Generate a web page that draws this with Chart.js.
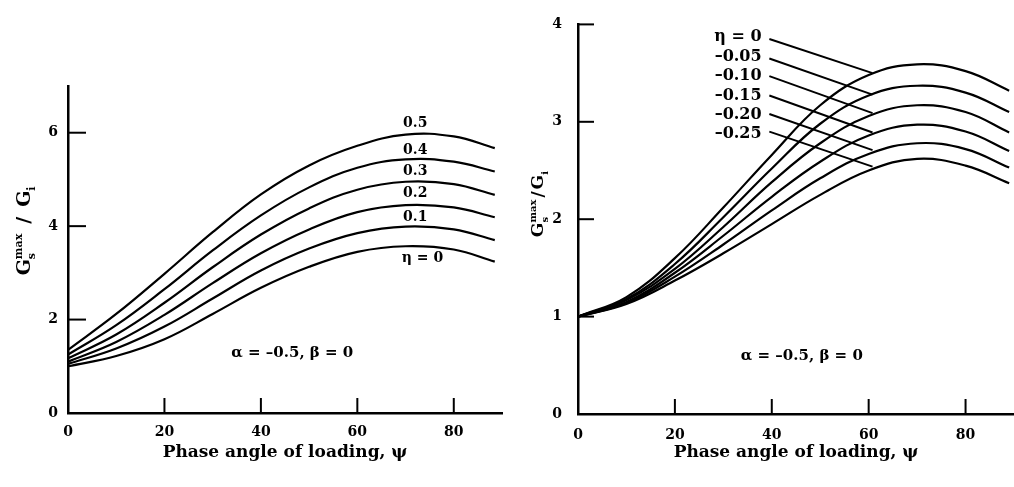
<!DOCTYPE html>
<html>
<head>
<meta charset="utf-8">
<script src="https://cdn.jsdelivr.net/npm/chart.js@4.4.1/dist/chart.umd.min.js"></script>
<style>
  html, body { margin: 0; padding: 0; background: #fff; }
  body { width: 1014px; height: 487px; position: relative; overflow: hidden; }
  .box { position: absolute; top: 0; height: 487px; width: 507px; }
  #boxL { left: 0; }
  #boxR { left: 507px; }
</style>
</head>
<body>
<div class="box" id="boxL"><canvas id="chartL"></canvas></div>
<div class="box" id="boxR"><canvas id="chartR"></canvas></div>
<script>
const psiLeft  = [0, 10, 20, 30, 40, 50, 60, 70, 80, 88.5];
const psiRight = [0, 10, 20, 30, 40, 50, 60, 70, 80, 89];

// left panel, eta = 0 .. 0.5
const gL_00 = [1.00, 1.22, 1.58, 2.12, 2.68, 3.13, 3.45, 3.57, 3.50, 3.24];
const gL_01 = [1.05, 1.38, 1.85, 2.45, 3.05, 3.52, 3.85, 3.99, 3.93, 3.70];
const gL_02 = [1.10, 1.52, 2.10, 2.78, 3.42, 3.93, 4.30, 4.45, 4.40, 4.19];
const gL_03 = [1.17, 1.68, 2.36, 3.12, 3.82, 4.38, 4.78, 4.95, 4.90, 4.67];
const gL_04 = [1.25, 1.88, 2.65, 3.48, 4.23, 4.83, 5.25, 5.43, 5.38, 5.17];
const gL_05 = [1.35, 2.12, 2.98, 3.87, 4.68, 5.30, 5.72, 5.96, 5.92, 5.67];

// right panel, eta = 0 .. -0.25
const gR_000 = [1.00, 1.20, 1.60, 2.12, 2.66, 3.17, 3.48, 3.59, 3.52, 3.32];
const gR_005 = [1.00, 1.18, 1.54, 2.02, 2.52, 2.98, 3.27, 3.37, 3.30, 3.10];
const gR_010 = [1.00, 1.17, 1.49, 1.92, 2.38, 2.78, 3.06, 3.17, 3.10, 2.89];
const gR_015 = [1.00, 1.15, 1.45, 1.83, 2.23, 2.59, 2.86, 2.97, 2.90, 2.70];
const gR_020 = [1.00, 1.14, 1.41, 1.74, 2.09, 2.42, 2.67, 2.78, 2.72, 2.53];
const gR_025 = [1.00, 1.13, 1.37, 1.65, 1.95, 2.25, 2.50, 2.62, 2.55, 2.37];

const xTicks = [0, 20, 40, 60, 80];
const yTicksLeft = [0, 2, 4, 6];
const yTicksRight = [0, 1, 2, 3, 4];

const etaLeft  = ['η = 0', '0.1', '0.2', '0.3', '0.4', '0.5'];
const etaRight = ['η = 0', '–0.05', '–0.10', '–0.15', '–0.20', '–0.25'];
const paramText = 'α = –0.5, β = 0';
const xTitle = 'Phase angle of loading, ψ';

// where the curve labels sit (data units)
const labelPosLeft = [[73.5, 3.32], [72, 4.19], [72, 4.70], [72, 5.17], [72, 5.63], [72, 6.19]];
const labelPosRight = [[37.9, 3.87], [37.9, 3.67], [37.9, 3.47], [37.9, 3.27], [37.9, 3.07], [37.9, 2.88]];
// leader lines from right-panel labels: [y at psi 39.5, y at psi 60.8]
const leaderY = [[3.85, 3.50], [3.65, 3.28], [3.47, 3.09], [3.27, 2.89], [3.08, 2.71], [2.90, 2.54]];

const FONT = '"DejaVu Serif", "Liberation Serif", serif';

function series(psi, arr) {
  return arr.map(function (vals) {
    return {
      data: psi.map(function (p, i) { return { x: p, y: vals[i] }; }),
      borderColor: '#000',
      borderWidth: 2.2,
      pointRadius: 0,
      tension: 0.4,
      fill: false
    };
  });
}

function drawYTitle(ctx, cx, cy, size, gap) {
  const big = 'bold ' + size + 'px ' + FONT;
  const small = 'bold ' + Math.round(size * 0.56) + 'px ' + FONT;
  ctx.save();
  ctx.translate(cx, cy);
  ctx.rotate(-Math.PI / 2);
  ctx.fillStyle = '#000';
  ctx.textBaseline = 'alphabetic';
  ctx.textAlign = 'left';
  ctx.font = big;
  const wG = ctx.measureText('G').width;
  const wSl = ctx.measureText('/').width;
  ctx.font = small;
  const wMax = ctx.measureText('max').width;
  const total = wG + wMax + gap + wSl + gap + wG + 6;
  let x = -total / 2;
  const base = size * 0.36;
  ctx.font = big; ctx.fillText('G', x, base); x += wG;
  ctx.font = small;
  ctx.fillText('max', x, base - size * 0.42);
  ctx.fillText('s', x, base + size * 0.28);
  x += wMax + gap;
  ctx.font = big; ctx.fillText('/', x, base); x += wSl + gap;
  ctx.fillText('G', x, base); x += wG;
  ctx.font = small; ctx.fillText('i', x, base + size * 0.28);
  ctx.restore();
}

const decorations = {
  id: 'decorations',
  afterDatasetsDraw(chart, args, o) {
    const ctx = chart.ctx;
    const a = chart.chartArea;
    const sx = chart.scales.x, sy = chart.scales.y;
    ctx.save();
    ctx.strokeStyle = '#000';
    ctx.fillStyle = '#000';
    // inward tick marks
    ctx.lineWidth = 2;
    xTicks.forEach(function (v) {
      if (v === 0) return;
      const px = sx.getPixelForValue(v);
      ctx.beginPath(); ctx.moveTo(px, a.bottom); ctx.lineTo(px, a.bottom - o.xLen); ctx.stroke();
    });
    o.yTicks.forEach(function (v) {
      if (v === 0) return;
      const py = sy.getPixelForValue(v);
      ctx.beginPath(); ctx.moveTo(a.left, py); ctx.lineTo(a.left + o.yLen, py); ctx.stroke();
    });
    // leader lines
    if (o.leaders) {
      ctx.lineWidth = 1.9;
      o.leaders.forEach(function (l) {
        ctx.beginPath();
        ctx.moveTo(sx.getPixelForValue(39.5), sy.getPixelForValue(l[0]));
        ctx.lineTo(sx.getPixelForValue(60.8), sy.getPixelForValue(l[1]));
        ctx.stroke();
      });
    }
    // curve labels
    ctx.font = 'bold ' + o.labelSize + 'px ' + FONT;
    ctx.textAlign = o.labelAlign;
    ctx.textBaseline = 'middle';
    o.labels.forEach(function (t, i) {
      ctx.fillText(t, sx.getPixelForValue(o.labelPos[i][0]), sy.getPixelForValue(o.labelPos[i][1]));
    });
    // parameter note
    ctx.font = 'bold 15px ' + FONT;
    ctx.textAlign = 'center';
    ctx.fillText(paramText, sx.getPixelForValue(o.param[0]), sy.getPixelForValue(o.param[1]));
    ctx.restore();
    drawYTitle(ctx, o.titleX, o.titleY, o.titleSize, o.titleGap);
  }
};

function makeChart(id, datasets, cfg) {
  return new Chart(document.getElementById(id), {
    type: 'line',
    data: { datasets: datasets },
    plugins: [decorations],
    options: {
      responsive: true,
      maintainAspectRatio: false,
      animation: false,
      layout: { padding: { top: cfg.top, right: cfg.right, left: 0, bottom: 0 } },
      plugins: {
        legend: { display: false },
        tooltip: { enabled: false },
        decorations: cfg.deco
      },
      scales: {
        x: {
          type: 'linear', min: 0, max: 90,
          afterFit: function (s) { s.height = cfg.xh; },
          afterBuildTicks: function (s) { s.ticks = xTicks.map(function (v) { return { value: v }; }); },
          grid: { display: true, drawOnChartArea: false, drawTicks: false },
          border: { display: true, color: '#000', width: 2.5 },
          ticks: { color: '#000', font: { family: FONT, size: 14, weight: 'bold' }, padding: cfg.xPad, maxRotation: 0 },
          title: { display: true, text: xTitle, color: '#000', font: { family: FONT, size: 17, weight: 'bold' }, padding: { top: 0, bottom: 24 } }
        },
        y: {
          type: 'linear', min: 0, max: cfg.ymax,
          afterFit: function (s) { s.width = cfg.yw; },
          afterBuildTicks: function (s) { s.ticks = cfg.yTicks.map(function (v) { return { value: v }; }); },
          grid: { display: true, drawOnChartArea: false, drawTicks: false },
          border: { display: true, color: '#000', width: 2.5 },
          ticks: { color: '#000', font: { family: FONT, size: 14, weight: 'bold' }, padding: cfg.yPad }
        }
      }
    }
  });
}

makeChart('chartL', series(psiLeft, [gL_00, gL_01, gL_02, gL_03, gL_04, gL_05]), {
  top: 86, right: 5, xh: 74, yw: 68, ymax: 7, yTicks: yTicksLeft, xPad: 11, yPad: 10,
  deco: {
    yTicks: yTicksLeft, xLen: 15, yLen: 18,
    labels: etaLeft, labelPos: labelPosLeft, labelAlign: 'center', labelSize: 14,
    param: [46.5, 1.28], titleX: 23, titleY: 230, titleSize: 19, titleGap: 10
  }
});

makeChart('chartR', series(psiRight, [gR_000, gR_005, gR_010, gR_015, gR_020, gR_025]), {
  top: 13, right: 0, xh: 73, yw: 71, ymax: 4, yTicks: yTicksRight, xPad: 13, yPad: 16,
  deco: {
    yTicks: yTicksRight, xLen: 15, yLen: 16, leaders: leaderY,
    labels: etaRight, labelPos: labelPosRight, labelAlign: 'right', labelSize: 16,
    param: [46.2, 0.59], titleX: 30, titleY: 203, titleSize: 17, titleGap: 2
  }
});
</script>
</body>
</html>
